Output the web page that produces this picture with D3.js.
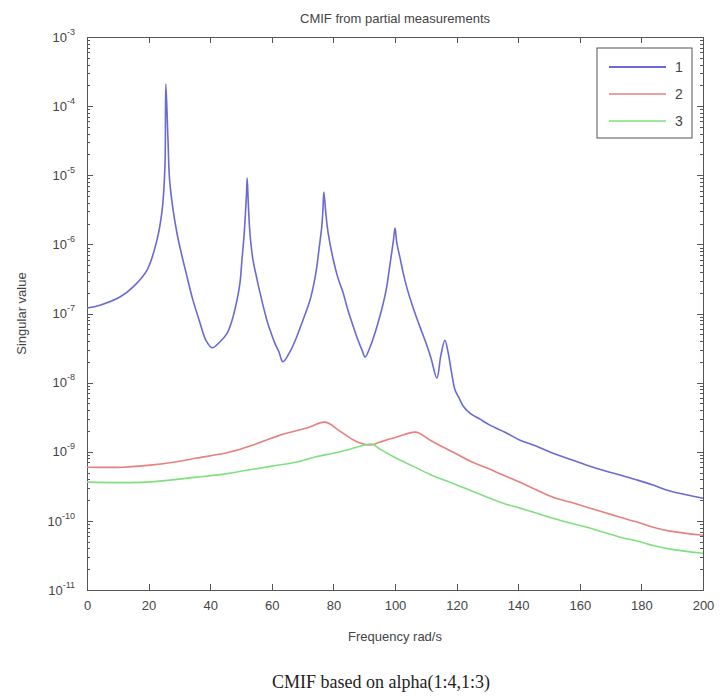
<html lang="en">
<head>
<meta charset="utf-8">
<title>CMIF</title>
<style>
    body { margin: 0; background: white; }
    svg { display: block; }
    .axis path, .axis line { fill: none; stroke: #555; shape-rendering: crispEdges; }
    .axis text { font-family: "Liberation Sans", Arial, sans-serif; font-size: 13px; fill: #444; }
</style>
</head>
<body>
<script src="https://d3js.org/d3.v7.min.js"></script>
<div id="chart"></div>
<script type="text/javascript">
    // series 1 (blue)
    var freq1 = [0, 4.2, 10.7, 14.9, 19.5, 22.7, 24.4, 25.3, 25.6, 26.3, 26.9, 29.2, 32.5, 34.4, 36.7, 38.6, 40.6,
        43.2, 45.5, 47.1, 48.7, 49.7, 50.3, 51.0, 51.5, 51.8, 52.0, 52.4, 52.9, 53.9, 54.9, 56.2, 58.4, 59.4, 61.0, 62.3, 63.6,
        65.9, 68.1, 70.1, 72.4, 73.7, 74.6, 75.3, 76.2, 76.6, 76.9, 77.6, 78.3, 80.0, 81.5, 83.2, 84.7, 86.5, 88.0, 89.3, 90.3,
        91.9, 94.1, 95.8, 97.3, 98.1, 98.9, 99.5, 100.0, 100.6, 101.6, 102.6, 103.8, 105.8, 108.1, 110.1, 111.7, 113.6,
        114.9, 116.2, 117.2, 118.4, 119.5, 120.8, 122.1, 124.4, 127.6, 130.8, 135.7, 140.6, 145.8, 151.3, 156.8, 162.3,
        167.5, 173.1, 178.6, 183.8, 189.3, 200];
    var val1 = [1.2e-7, 1.32e-7, 1.73e-7, 2.41e-7, 4.25e-7, 1.15e-6, 3.13e-6, 1.31e-5, 2.09e-4, 3.23e-5, 7.7e-6, 1.46e-6, 3.37e-7, 1.56e-7, 7.3e-8, 4.1e-8, 3.2e-8,
        3.9e-8, 5.2e-8, 8.0e-8, 1.56e-7, 2.85e-7, 5.9e-7, 1.36e-6, 3.13e-6, 5.5e-6, 9.1e-6, 3.7e-6, 1.46e-6, 5.9e-7, 3.6e-7, 1.97e-7, 8.0e-8, 5.8e-8, 3.7e-8, 2.8e-8, 2.0e-8,
        2.8e-8, 4.6e-8, 8.0e-8, 1.56e-7, 2.75e-7, 4.7e-7, 8.3e-7, 1.78e-6, 3.13e-6, 5.7e-6, 2.65e-6, 1.46e-6, 5.9e-7, 3.25e-7, 1.97e-7, 1.12e-7, 6.4e-8, 4.1e-8, 2.95e-8, 2.34e-8,
        3.27e-8, 6.4e-8, 1.2e-7, 2.41e-7, 4.25e-7, 7.5e-7, 1.15e-6, 1.72e-6, 1.04e-6, 6.5e-7, 3.97e-7, 2.41e-7, 1.24e-7, 6.4e-8, 3.7e-8, 2.26e-8, 1.16e-8,
        2.5e-8, 4.1e-8, 2.8e-8, 1.37e-8, 7.8e-9, 6.0e-9, 4.6e-9, 3.6e-9, 2.96e-9, 2.43e-9, 1.92e-9, 1.47e-9, 1.21e-9, 9.5e-10, 7.8e-10, 6.4e-10,
        5.4e-10, 4.6e-10, 3.9e-10, 3.3e-10, 2.7e-10, 2.13e-10];

    // series 2 (red)
    var freq2 = [0, 11.7, 20.5, 28.6, 35.7, 46.4, 53.9, 62.7, 71.4, 77.3, 82.1, 87.3, 91.9, 95.1, 100.6, 106.8,
        111.4, 118.8, 124.4, 129.9, 135.1, 140.6, 146.1, 151.3, 156.8, 162.3, 167.5, 173.1, 178.6, 183.8, 189.3, 200];
    var val2 = [5.98e-10, 5.98e-10, 6.4e-10, 7.1e-10, 8.1e-10, 9.9e-10, 1.25e-9, 1.74e-9, 2.2e-9, 2.68e-9, 1.99e-9, 1.42e-9, 1.25e-9, 1.38e-9, 1.63e-9, 1.92e-9,
        1.47e-9, 9.9e-10, 7.3e-10, 5.8e-10, 4.6e-10, 3.63e-10, 2.78e-10, 2.2e-10, 1.87e-10, 1.58e-10, 1.34e-10, 1.13e-10, 9.6e-11, 8.1e-11, 7.1e-11, 6.2e-11];

    // series 3 (green)
    var freq3 = [0, 19.5, 35.7, 43.8, 51.9, 60.1, 68.2, 74.0, 79.9, 85.4, 92.5, 95.1, 100.3, 105.8, 111.4, 116.9,
        124.4, 129.9, 135.1, 140.6, 146.1, 151.3, 156.8, 162.3, 167.5, 173.1, 178.6, 183.8, 189.3, 200];
    var val3 = [3.63e-10, 3.63e-10, 4.3e-10, 4.7e-10, 5.4e-10, 6.2e-10, 7.1e-10, 8.4e-10, 9.5e-10, 1.09e-9, 1.29e-9, 1.09e-9, 8.1e-10, 6.2e-10, 4.7e-10, 3.76e-10,
        2.78e-10, 2.2e-10, 1.8e-10, 1.53e-10, 1.29e-10, 1.09e-10, 9.3e-11, 8.1e-11, 6.9e-11, 5.8e-11, 5.1e-11, 4.4e-11, 3.9e-11, 3.4e-11];

    var seriesNames = ["1", "2", "3"];
    var seriesColors = ["#6a6ad6", "#e88080", "#80e080"];

    var xTicks = [0, 20, 40, 60, 80, 100, 120, 140, 160, 180, 200];
    var yExponents = [-3, -4, -5, -6, -7, -8, -9, -10, -11];

    var width = 722, height = 696;
    var padL = 87, padR = 703, padT = 37, padB = 590;

    var svg = d3.select("#chart").append("svg")
        .attr("width", width)
        .attr("height", height);

    var xScale = d3.scaleLinear().domain([0, 200]).range([padL, padR]);
    var yScale = d3.scaleLog().domain([1e-11, 1e-3]).range([padB, padT]);

    var majors = yExponents.map(function(e) { return Math.pow(10, e); });
    var minors = [];
    for (var e = -11; e < -3; e++) {
        for (var m = 2; m <= 9; m++) minors.push(m * Math.pow(10, e));
    }

    // frame
    svg.append("rect")
        .attr("x", padL).attr("y", padT)
        .attr("width", padR - padL).attr("height", padB - padT)
        .style("fill", "none").style("stroke", "#555").style("shape-rendering", "crispEdges");

    // x axes (bottom with labels, top ticks only)
    svg.append("g").attr("class", "axis")
        .attr("transform", "translate(0," + padB + ")")
        .call(d3.axisBottom(xScale).tickValues(xTicks).tickSize(-6).tickPadding(11).tickFormat(d3.format("d")));
    svg.append("g").attr("class", "axis")
        .attr("transform", "translate(0," + padT + ")")
        .call(d3.axisTop(xScale).tickValues(xTicks).tickSize(-6).tickFormat(""));

    // y axes, major + minor ticks on both sides
    var yLeft = svg.append("g").attr("class", "axis")
        .attr("transform", "translate(" + padL + ",0)")
        .call(d3.axisLeft(yScale).tickValues(majors).tickSize(-6).tickPadding(12).tickFormat(""));
    svg.append("g").attr("class", "axis")
        .attr("transform", "translate(" + padL + ",0)")
        .call(d3.axisLeft(yScale).tickValues(minors).tickSize(-3).tickFormat(""));
    svg.append("g").attr("class", "axis")
        .attr("transform", "translate(" + padR + ",0)")
        .call(d3.axisRight(yScale).tickValues(majors).tickSize(-6).tickFormat(""));
    svg.append("g").attr("class", "axis")
        .attr("transform", "translate(" + padR + ",0)")
        .call(d3.axisRight(yScale).tickValues(minors).tickSize(-3).tickFormat(""));
    svg.selectAll(".axis .domain").remove();

    yLeft.selectAll(".tick text").each(function(d) {
        var t = d3.select(this);
        t.text("");
        t.append("tspan").text("10");
        t.append("tspan").attr("dy", -7).attr("font-size", "9px").text(Math.round(Math.log10(d)));
    });

    // curves
    var line = d3.line()
        .x(function(d) { return xScale(d[0]); })
        .y(function(d) { return yScale(d[1]); })
        .curve(d3.curveCatmullRom.alpha(0.5));

    var series = [d3.zip(freq1, val1), d3.zip(freq2, val2), d3.zip(freq3, val3)];
    svg.append("g").selectAll("path")
        .data(series)
        .enter()
        .append("path")
        .attr("d", line)
        .style("fill", "none")
        .style("stroke", function(d, i) { return seriesColors[i]; })
        .style("stroke-width", 1.6)
        .style("stroke-linejoin", "round");

    // legend
    var lg = svg.append("g").attr("transform", "translate(597,48)");
    lg.append("rect").attr("width", 95).attr("height", 90)
        .style("fill", "white").style("stroke", "#555");
    seriesNames.forEach(function(name, i) {
        var y = 19 + i * 27;
        lg.append("line").attr("x1", 12).attr("x2", 69).attr("y1", y).attr("y2", y)
            .style("stroke", seriesColors[i]).style("stroke-width", i == 0 ? 2.2 : 1.6);
        lg.append("text").attr("x", 78).attr("y", y + 5).text(name)
            .attr("font-family", "Liberation Sans, Arial, sans-serif")
            .attr("font-size", "14px").attr("fill", "#444");
    });

    // titles
    svg.append("text").text("CMIF from partial measurements")
        .attr("x", (padL + padR) / 2).attr("y", 23)
        .attr("text-anchor", "middle")
        .attr("font-family", "Liberation Sans, Arial, sans-serif")
        .attr("font-size", "13px").attr("fill", "#444");

    svg.append("text").text("Frequency rad/s")
        .attr("x", (padL + padR) / 2).attr("y", 641)
        .attr("text-anchor", "middle")
        .attr("font-family", "Liberation Sans, Arial, sans-serif")
        .attr("font-size", "13px").attr("fill", "#444");

    svg.append("text").text("Singular value")
        .attr("transform", "translate(26," + ((padT + padB) / 2) + ") rotate(-90)")
        .attr("text-anchor", "middle")
        .attr("font-family", "Liberation Sans, Arial, sans-serif")
        .attr("font-size", "13px").attr("fill", "#444");

    svg.append("text").text("CMIF based on alpha(1:4,1:3)")
        .attr("x", 381).attr("y", 688)
        .attr("text-anchor", "middle")
        .attr("font-family", "Liberation Serif, Times New Roman, serif")
        .attr("font-size", "18px").attr("fill", "#222");
</script>
</body>
</html>
